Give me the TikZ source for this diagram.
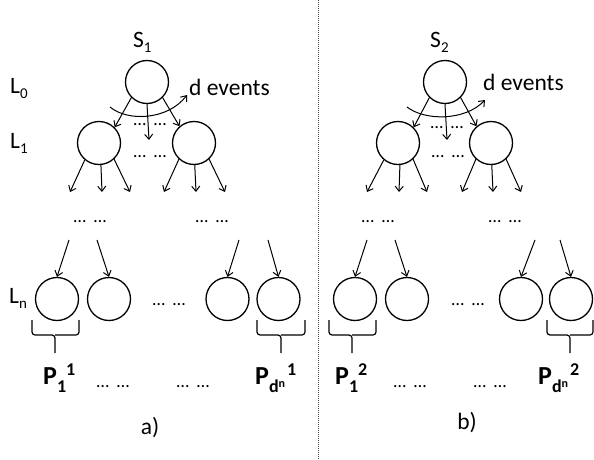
\documentclass[tikz,border=0pt]{standalone}
\usepackage{fontspec}
\setmainfont{Carlito}
\usetikzlibrary{arrows.meta}
\newcommand{\eldots}{…\hspace{8pt}…}
\newcommand{\lsub}[1]{\raisebox{-5pt}{\fontsize{15}{15}\selectfont #1}}
\newcommand{\Plab}[2]{\bfseries\fontsize{26}{26}\selectfont P\raisebox{-8pt}{\fontsize{18}{18}\selectfont #1}\raisebox{9pt}{\fontsize{18}{18}\selectfont #2}}
\newcommand{\dnsub}{d\raisebox{5pt}{\fontsize{12}{12}\selectfont n}\hspace{2pt}}
\begin{document}
\begin{tikzpicture}[x=1pt,y=-1pt,
  nd/.style={circle,draw,line width=1.3pt,minimum size=43pt,inner sep=0pt},
  arr/.style={line width=1pt,-{Straight Barb[length=5pt,width=8pt]}},
  txt/.style={inner sep=0pt,font=\fontsize{23.5}{27}\selectfont},
  dt/.style={inner sep=0pt,font=\fontsize{18}{20}\selectfont},
  bracestyle/.style={line width=1.2pt,rounded corners=3pt},
  divider/.style={line width=1pt,black!70,dash pattern=on 1pt off 1pt}]
\useasboundingbox (0,0) rectangle (594,460);
% divider
\coordinate (dv1) at (318,0);
\coordinate (dv2) at (318,460);
\draw[divider] (dv1) -- (dv2);

% ================= panel a =================
\node[txt,anchor=base west] (sa) at (133,48) {S\lsub{1}};
\node[txt,anchor=base west] (l0) at (10,93) {L\lsub{0}};
\node[txt,anchor=base west] (l1) at (10,148) {L\lsub{1}};
\node[txt,anchor=base west] (ln) at (9,303) {L\lsub{n}};

\node[nd] (ta) at (147,82) {};
\node[nd] (la) at (99,143) {};
\node[nd] (ra) at (194,143) {};
\draw[arr] (ta.-135) -- (la.45);
\draw[arr] (ta.-45) -- (ra.131);
\coordinate (ma) at (149,140);
\draw[arr] (ta.south) -- (ma);
\coordinate (cas) at (110,107);
\coordinate (cae) at (187,95);
\draw[arr] (cas) .. controls (128,122) and (168,120) .. (cae);
\node[txt,anchor=base west] (dea) at (189,95) {d events};
\node[dt,anchor=base] (da1) at (150,125) {\eldots};
\node[dt,anchor=base] (da2) at (150,157) {\eldots};

\coordinate (a1) at (70,192);
\coordinate (a2) at (102,192);
\coordinate (a3) at (130,192);
\coordinate (a4) at (164,192);
\coordinate (a5) at (196,192);
\coordinate (a6) at (225,192);
\draw[arr] (la.-130) -- (a1);
\draw[arr] (la.-85) -- (a2);
\draw[arr] (la.-47) -- (a3);
\draw[arr] (ra.-133) -- (a4);
\draw[arr] (ra.-88) -- (a5);
\draw[arr] (ra.-47) -- (a6);
\node[dt,anchor=base] (da3) at (90,222) {\eldots};
\node[dt,anchor=base] (da4) at (212,222) {\eldots};

\node[nd] (na1) at (57,299) {};
\node[nd] (na2) at (109,299) {};
\node[nd] (na3) at (227.5,299) {};
\node[nd] (na4) at (278.5,299) {};
\coordinate (b1) at (69,240);
\coordinate (b2) at (97,240);
\coordinate (b3) at (239,240);
\coordinate (b4) at (268,240);
\draw[arr] (b1) -- (na1.north);
\draw[arr] (b2) -- (na2.north);
\draw[arr] (b3) -- (na3.north);
\draw[arr] (b4) -- (na4.north);
\node[dt,anchor=base] (da5) at (169,305) {\eldots};

\draw[bracestyle] (32,320) -- (32,335) -- (55,335) -- (55,353);
\draw[bracestyle] (79,320) -- (79,335) -- (55,335);
\draw[bracestyle] (257,320) -- (257,335) -- (281,335) -- (281,353);
\draw[bracestyle] (305,320) -- (305,335) -- (281,335);

\node[inner sep=0pt,anchor=base west] (pa1) at (43,384) {\Plab{1}{1}};
\node[inner sep=0pt,anchor=base west] (pa2) at (255,384) {\Plab{\dnsub}{1}};
\node[dt,anchor=base] (da6) at (113,387) {\eldots};
\node[dt,anchor=base] (da7) at (193,387) {\eldots};
\node[txt] (capa) at (150,428) {a)};

% ================= panel b =================
\node[txt,anchor=base west] (sb) at (430,48) {S\lsub{2}};
\node[nd] (tb) at (445,82) {};
\node[nd] (lb) at (398,143) {};
\node[nd] (rb) at (491,143) {};
\draw[arr] (tb.-135) -- (lb.45);
\draw[arr] (tb.-45) -- (rb.131);
\coordinate (mb) at (447,140);
\draw[arr] (tb.south) -- (mb);
\coordinate (cbs) at (407,107);
\coordinate (cbe) at (485,100);
\draw[arr] (cbs) .. controls (425,121) and (465,121) .. (cbe);
\node[txt,anchor=base west] (deb) at (483,90) {d events};
\node[dt,anchor=base] (db1) at (447,128) {\eldots};
\node[dt,anchor=base] (db2) at (448,157) {\eldots};

\coordinate (e1) at (367,192);
\coordinate (e2) at (399,192);
\coordinate (e3) at (427,192);
\coordinate (e4) at (462,192);
\coordinate (e5) at (493,192);
\coordinate (e6) at (521,192);
\draw[arr] (lb.-130) -- (e1);
\draw[arr] (lb.-85) -- (e2);
\draw[arr] (lb.-47) -- (e3);
\draw[arr] (rb.-133) -- (e4);
\draw[arr] (rb.-88) -- (e5);
\draw[arr] (rb.-47) -- (e6);
\node[dt,anchor=base] (db3) at (378,222) {\eldots};
\node[dt,anchor=base] (db4) at (505,222) {\eldots};

\node[nd] (nb1) at (355,299) {};
\node[nd] (nb2) at (407,299) {};
\node[nd] (nb3) at (521,299) {};
\node[nd] (nb4) at (571,299) {};
\coordinate (f1) at (367,240);
\coordinate (f2) at (395,240);
\coordinate (f3) at (535,240);
\coordinate (f4) at (560,240);
\draw[arr] (f1) -- (nb1.north);
\draw[arr] (f2) -- (nb2.north);
\draw[arr] (f3) -- (nb3.north);
\draw[arr] (f4) -- (nb4.north);
\node[dt,anchor=base] (db5) at (468,305) {\eldots};

\draw[bracestyle] (329,320) -- (329,335) -- (352,335) -- (352,353);
\draw[bracestyle] (376,320) -- (376,335) -- (352,335);
\draw[bracestyle] (547,320) -- (547,335) -- (570,335) -- (570,353);
\draw[bracestyle] (593,320) -- (593,335) -- (570,335);

\node[inner sep=0pt,anchor=base west] (pb1) at (335,384) {\Plab{1}{2}};
\node[inner sep=0pt,anchor=base west] (pb2) at (538,384) {\Plab{\dnsub}{2}};
\node[dt,anchor=base] (db6) at (410,387) {\eldots};
\node[dt,anchor=base] (db7) at (490,387) {\eldots};
\node[txt] (capb) at (467,423) {b)};
\end{tikzpicture}
\end{document}
